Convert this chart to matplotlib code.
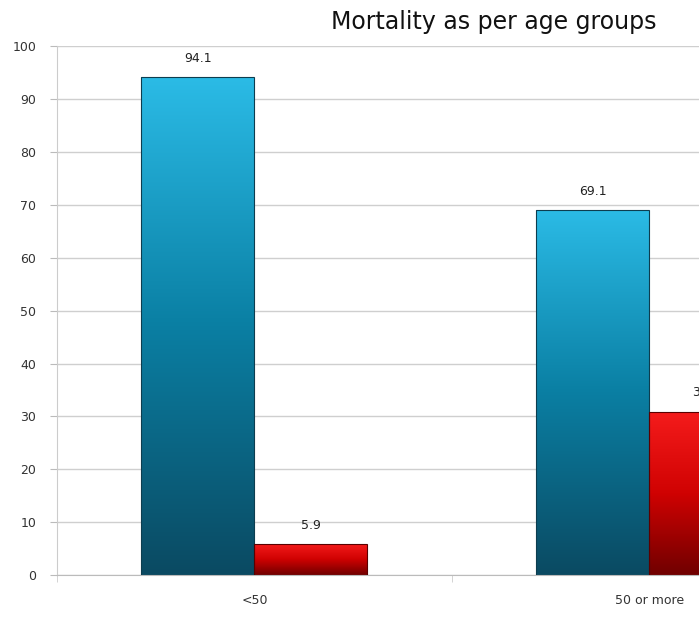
import matplotlib.pyplot as plt
import numpy as np
from matplotlib.colors import LinearSegmentedColormap

categories = ['<50', '50 or more']
died = [94.1, 69.1]
survived = [5.9, 30.9]
yticks = [0, 10, 20, 30, 40, 50, 60, 70, 80, 90, 100]

blue_map = LinearSegmentedColormap.from_list('blue_grad', ['#0b4a62', '#0a7fa3', '#2bbbe6'])
red_map = LinearSegmentedColormap.from_list('red_grad', ['#700000', '#d00202', '#f51c1c'])

fig = plt.figure(figsize=(6.99, 6.17), dpi=100)
ax = fig.add_axes([0.0815, 0.068, 1.130, 0.857])

x = np.arange(len(categories))
width = 0.286
bars_blue = ax.bar(x - width / 2, died, width, color='none', edgecolor='#0d3d4f', linewidth=0.8, zorder=3)
bars_red = ax.bar(x + width / 2, survived, width, color='none', edgecolor='#5a0000', linewidth=0.8, zorder=3)

# vertical gradient fill clipped to each bar
grad = np.linspace(0, 1, 256).reshape(-1, 1)
for bars, cmap in [(bars_blue, blue_map), (bars_red, red_map)]:
    for b in bars:
        bx, by = b.get_x(), b.get_y()
        w, h = b.get_width(), b.get_height()
        im = ax.imshow(grad, cmap=cmap, origin='lower', aspect='auto',
                       extent=[bx, bx + w, by, by + h], zorder=2)
        im.set_clip_path(b)

for bars, vals in [(bars_blue, died), (bars_red, survived)]:
    for b, v in zip(bars, vals):
        ax.text(b.get_x() + b.get_width() / 2, v + 2.3, f'{v:.1f}',
                ha='center', va='bottom', fontsize=9, color='#222222', zorder=4)

ax.set_xlim(-0.5, 1.5)
ax.set_ylim(0, 100)
ax.set_yticks(yticks)
ax.set_xticks(x)
ax.set_xticklabels(categories, fontsize=9, color='#333333')
ax.set_xticks([-0.5, 0.5, 1.5], minor=True)
ax.tick_params(axis='x', which='major', length=0, pad=14)
ax.tick_params(axis='x', which='minor', length=5, color='#cccccc')
ax.tick_params(axis='y', length=5, color='#bbbbbb', labelsize=9, labelcolor='#333333', pad=10)
ax.yaxis.grid(True, color='#cfcfcf', linewidth=1, zorder=0)
ax.set_axisbelow(True)
for side in ['top', 'right']:
    ax.spines[side].set_visible(False)
ax.spines['left'].set_color('#cccccc')
ax.spines['bottom'].set_color('#bbbbbb')

fig.text(0.706, 0.965, 'Mortality as per age groups', ha='center', va='center',
         fontsize=17, color='#111111', family='DejaVu Sans')

fig.savefig('out.png', dpi=100)
